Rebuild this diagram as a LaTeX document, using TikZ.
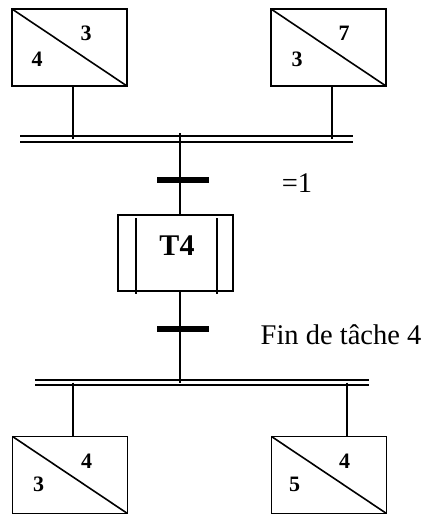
\documentclass[tikz,border=0pt]{standalone}
\usepackage{fontspec}
\setmainfont{Liberation Serif}
\begin{document}
\begin{tikzpicture}[x=1pt,y=-1pt,
  macro/.style={draw, line width=1.8pt, minimum width=115pt, minimum height=77pt, inner sep=0pt, outer sep=0pt},
  num/.style={font=\fontsize{22}{22}\selectfont\bfseries, inner sep=0pt},
  link/.style={line width=1.4pt},
  trans/.style={fill=black, minimum width=52pt, minimum height=5.5pt, inner sep=0pt, outer sep=0pt},
  sync/.style={line width=1.9pt, double distance=3.8pt},
  lbl/.style={font=\fontsize{28.5}{30}\selectfont, inner sep=0pt}]
\useasboundingbox (0,0) rectangle (429,514);
% macro-steps
\node[macro] (m1) at (69.5,47.5) {};
\node[macro] (m2) at (328.5,47.5) {};
\node[macro] (m3) at (70,475) {};
\node[macro] (m4) at (329,475) {};
\foreach \m in {m1,m2,m3,m4}{\draw[line width=1.6pt] (\m.north west) -- (\m.south east);}
\node[num] (n1a) at ([shift={(74,24)}]m1.north west) {3};
\node[num] (n1b) at ([shift={(25,50)}]m1.north west) {4};
\node[num] (n2a) at ([shift={(73,24)}]m2.north west) {7};
\node[num] (n2b) at ([shift={(26,50)}]m2.north west) {3};
\node[num] (n3a) at ([shift={(74,25)}]m3.north west) {4};
\node[num] (n3b) at ([shift={(26,48)}]m3.north west) {3};
\node[num] (n4a) at ([shift={(73,25)}]m4.north west) {4};
\node[num] (n4b) at ([shift={(23,48)}]m4.north west) {5};
% synchronisation bars
\coordinate (s1w) at (20,139);
\coordinate (s1e) at (353,139);
\coordinate (s2w) at (35,382.5);
\coordinate (s2e) at (369,382.5);
\draw[sync] (s1w) -- (s1e);
\draw[sync] (s2w) -- (s2e);
\coordinate (a1) at (73,139);
\coordinate (a2) at (332,139);
\coordinate (b1) at (73,382.5);
\coordinate (b2) at (347,382.5);
\draw[link] (a1 |- m1.south) -- (a1);
\draw[link] (a2 |- m2.south) -- (a2);
\draw[link] (b1) -- (b1 |- m3.north);
\draw[link] (b2) -- (b2 |- m4.north);
% task step T4
\node[draw, line width=1.6pt, minimum width=115pt, minimum height=76pt, inner sep=0pt, outer sep=0pt] (t4) at (175.5,253) {};
\node[font=\fontsize{30}{30}\selectfont\bfseries, inner sep=0pt] (t4l) at (177,246) {T4};
\draw[line width=1.6pt] (136,218) -- (136,294);
\draw[line width=1.6pt] (217,218) -- (217,294);
% transitions
\coordinate (c0) at (180,133);
\coordinate (c1) at (180,382.5);
\node[trans] (tr1) at (183,180) {};
\node[trans] (tr2) at (183,329) {};
\draw[link] (c0) -- (c0 |- t4.north);
\draw[link] (c0 |- t4.south) -- (c1);
\node[lbl] (r1) at (297,183) {=1};
\node[lbl] (r2) at (341,335) {Fin de tâche 4};
\end{tikzpicture}
\end{document}
